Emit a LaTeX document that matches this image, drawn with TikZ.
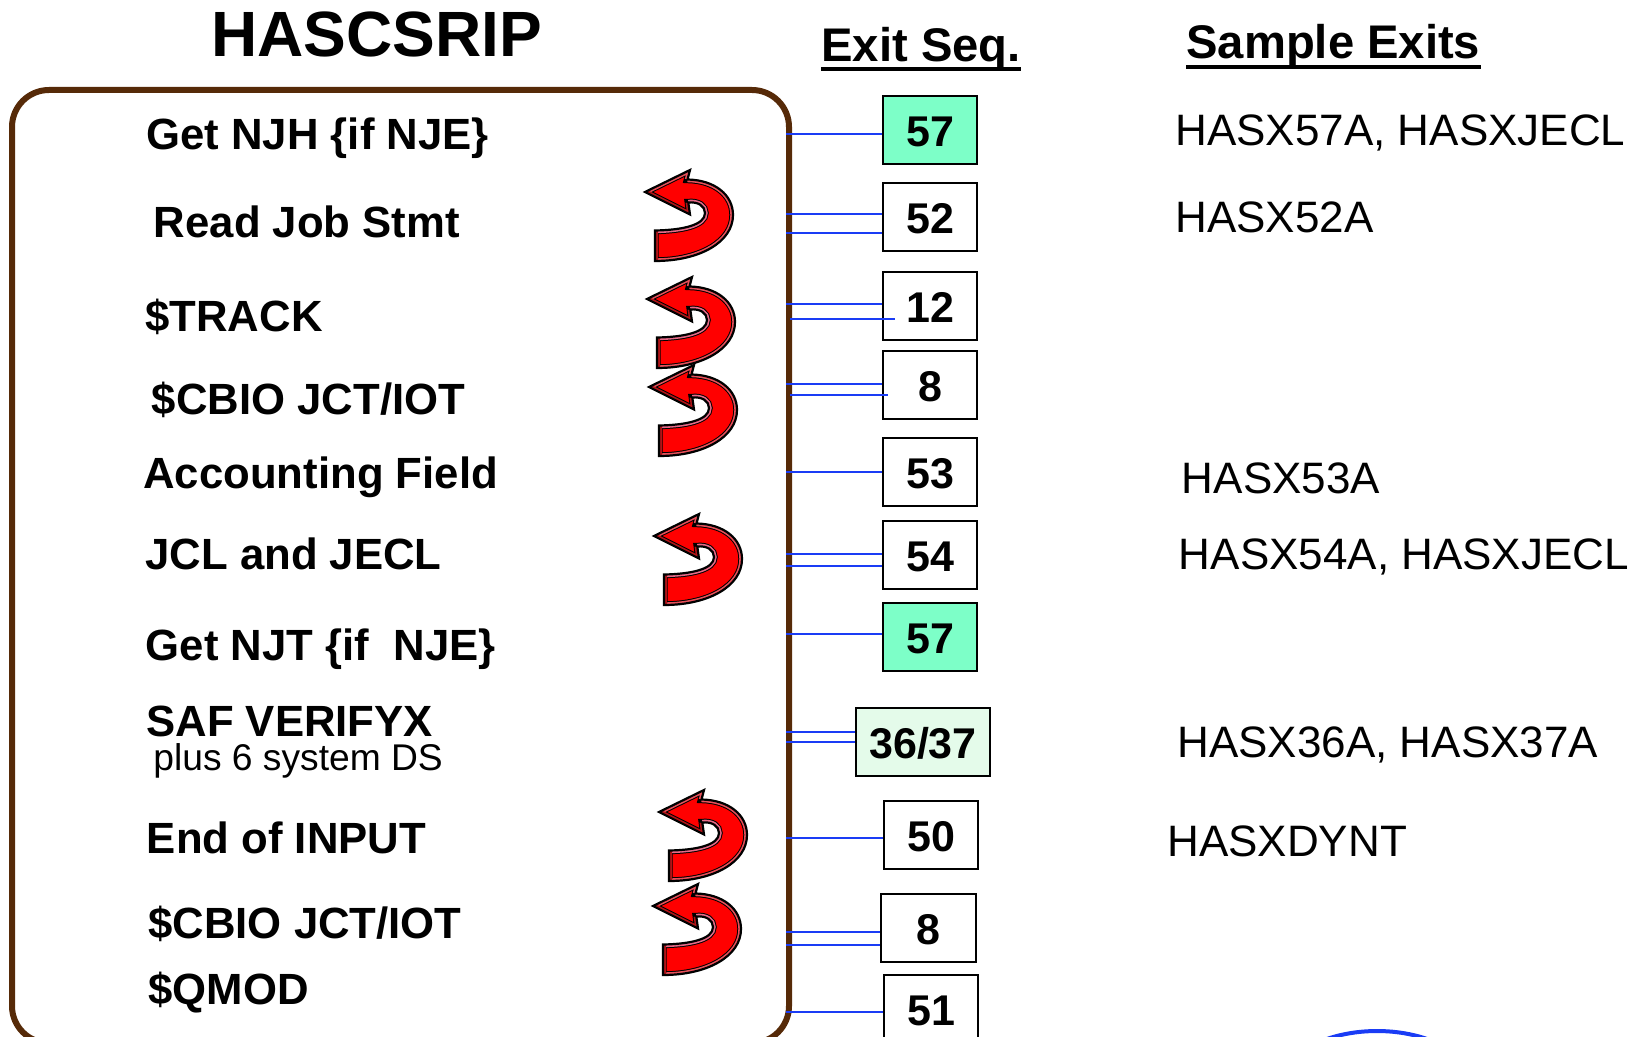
\documentclass[tikz,border=0pt]{standalone}
\usepackage{fontspec}
\setmainfont{Liberation Sans}
\usepackage{xcolor}
\usetikzlibrary{calc}
\definecolor{frame-color}{HTML}{562A08}
\definecolor{exit-blue}{HTML}{1A3CF5}
\definecolor{exit-green}{HTML}{7DFFC8}
\definecolor{exit-pale}{HTML}{E4FBEA}
\definecolor{turn-light}{HTML}{E8505A}
\definecolor{turn-pink}{HTML}{E86A88}
\definecolor{turn-dark}{HTML}{B01418}
\def\turntop{(0,0) -- (45,-22) -- (42.5,-12.5)}
\def\turnouter{(42.5,-12.5) .. controls (70,-12) and (88,3) .. (88,23) .. controls (88,50) and (55,69) .. (10,69)}
\def\turninner{(10,38.5) .. controls (38,38) and (60,33) .. (60,21) .. controls (60,14) and (53,9.5) .. (43.3,10.5)}
\def\turnlow{(43.3,10.5) -- (45,22.5) -- (0,0)}
\def\turnpath{(0,0) -- (45,-22) -- (42.5,-12.5) .. controls (70,-12) and (88,3) .. (88,23) .. controls (88,50) and (55,69) .. (10,69) -- (10,38.5) .. controls (38,38) and (60,33) .. (60,21) .. controls (60,14) and (53,9.5) .. (43.3,10.5) -- (45,22.5) -- cycle}
\tikzset{
    pics/uturn/.style = {
        code = {%
        \fill[red] \turnpath;
        \begin{scope}
        \clip \turnpath;
        \draw[line width=3.7pt] \turnpath;
        \draw[line width=2.7pt,turn-light] \turntop;
        \draw[line width=2.7pt,turn-light] \turnouter;
        \draw[line width=2.7pt,turn-pink] \turninner;
        \draw[line width=2.7pt,turn-dark] \turnlow;
        \draw[line width=2.7pt,turn-dark] (10,69) -- (10,38.5);
        \end{scope}
        \draw[line width=1.1pt,line join=miter] \turnpath;
        }
    },
    itemtext/.style = {anchor=base west, inner sep=0pt, font=\fontsize{21.85}{24}\selectfont\bfseries},
    sampletext/.style = {anchor=base west, inner sep=0pt, font=\fontsize{22}{24}\selectfont},
    heading/.style = {anchor=base west, inner sep=0pt, font=\fontsize{23.6}{26}\selectfont\bfseries},
    headrule/.style = {line width=1.7pt},
    exitbox/.style = {draw, line width=1pt, minimum width=47pt, minimum height=34pt, inner sep=0pt,
        text height=16.5pt, text depth=0pt, font=\fontsize{21.5}{24}\selectfont\bfseries},
    exitline/.style = {exit-blue, line width=0.75pt}
}

\begin{document}
\begin{tikzpicture}[x=0.5pt,y=-0.5pt]
\useasboundingbox (0,0) rectangle (1648,1037);
\clip (0,0) rectangle (1648,1037);

\node[anchor=base west,inner sep=0pt,font=\fontsize{32}{36}\selectfont\bfseries] (title) at (211,57) {HASCSRIP};
\node[heading] (exitseq) at (821,62) {Exit Seq.};
\node[heading] (samples) at (1186,59) {Sample Exits};
\draw[headrule] ([yshift=-3.5pt]exitseq.base west) -- ([yshift=-3.5pt]exitseq.base east);
\draw[headrule] ([yshift=-4pt]samples.base west) -- ([yshift=-4pt]samples.base east);

\node[draw=frame-color,line width=3pt,rounded corners=18.5pt,minimum width=388.5pt,minimum height=476.5pt,inner sep=0pt,anchor=north west] (frame) at (9,87) {};

\node[itemtext] (njh) at (146,150) {Get NJH \{if NJE\}};
\node[itemtext] (read) at (153.5,238) {Read Job Stmt};
\node[itemtext] (track) at (145,332) {\$TRACK};
\node[itemtext] (cbioa) at (151.5,415) {\$CBIO JCT/IOT};
\node[itemtext] (acct) at (143,488) {Accounting Field};
\node[itemtext] (jcl) at (145,569) {JCL and JECL};
\node[itemtext] (njt) at (145.5,660) {Get NJT \{if\ \ NJE\}};
\node[itemtext] (saf) at (146,736.5) {SAF VERIFYX};
\node[anchor=base west,inner sep=0pt,font=\fontsize{18.6}{20}\selectfont] (plus) at (153,770.5) {plus 6 system DS};
\node[itemtext] (eoi) at (146.5,853) {End of INPUT};
\node[itemtext] (cbiob) at (148,938) {\$CBIO JCT/IOT};
\node[itemtext] (qmod) at (148,1004) {\$QMOD};

\pic (turn1) at (645,192) {uturn};
\pic (turn2) at (647,299) {uturn};
\pic (turn3) at (649,387) {uturn};
\pic (turn4) at (654,536) {uturn};
\pic (turn5) at (659,812) {uturn};
\pic (turn6) at (653,906) {uturn};

\node[exitbox,fill=exit-green] (e57a) at (930,130) {57};
\node[exitbox] (e52) at (930,217.5) {52};
\node[exitbox] (e12) at (930,306) {12};
\node[exitbox] (e8a) at (930,385) {8};
\node[exitbox] (e53) at (930,472) {53};
\node[exitbox] (e54) at (930,555) {54};
\node[exitbox,fill=exit-green] (e57b) at (930,637) {57};
\node[exitbox,fill=exit-pale,minimum width=67pt] (e36) at (923,742) {36/37};
\node[exitbox] (e50) at (931,835) {50};
\node[exitbox,minimum width=47.5pt] (e8b) at (928.5,928) {8};
\node[exitbox] (e51) at (931,1009) {51};

\coordinate (l12) at (895,319);
\coordinate (l8) at (888,395);
\draw[exitline] (786,134) -- (e57a.west |- 786,134);
\draw[exitline] (786,214) -- (e52.west |- 786,214);
\draw[exitline] (786,233) -- (e52.west |- 786,233);
\draw[exitline] (786,304) -- (e12.west |- 786,304);
\draw[exitline] (790,319) -- (l12);
\draw[exitline] (786,384) -- (e8a.west |- 786,384);
\draw[exitline] (790,395) -- (l8);
\draw[exitline] (786,472) -- (e53.west |- 786,472);
\draw[exitline] (786,554) -- (e54.west |- 786,554);
\draw[exitline] (786,566) -- (e54.west |- 786,566);
\draw[exitline] (786,634) -- (e57b.west |- 786,634);
\draw[exitline] (786,732) -- (e36.west |- 786,732);
\draw[exitline] (786,742) -- (e36.west |- 786,742);
\draw[exitline] (786,838) -- (e50.west |- 786,838);
\draw[exitline] (786,932) -- (e8b.west |- 786,932);
\draw[exitline] (786,945) -- (e8b.west |- 786,945);
\draw[exitline] (786,1012) -- (e51.west |- 786,1012);

\node[sampletext] (s57) at (1175,146) {HASX57A, HASXJECL};
\node[sampletext] (s52) at (1175,233) {HASX52A};
\node[sampletext] (s53) at (1181.5,493) {HASX53A};
\node[sampletext] (s54) at (1178.5,569) {HASX54A, HASXJECL};
\node[sampletext] (s36) at (1177,757) {HASX36A, HASX37A};
\node[sampletext] (s50) at (1167,856) {HASXDYNT};

\draw[exit-blue,line width=2pt] (1377,1101) ellipse [x radius=108,y radius=70];
\end{tikzpicture}
\end{document}
